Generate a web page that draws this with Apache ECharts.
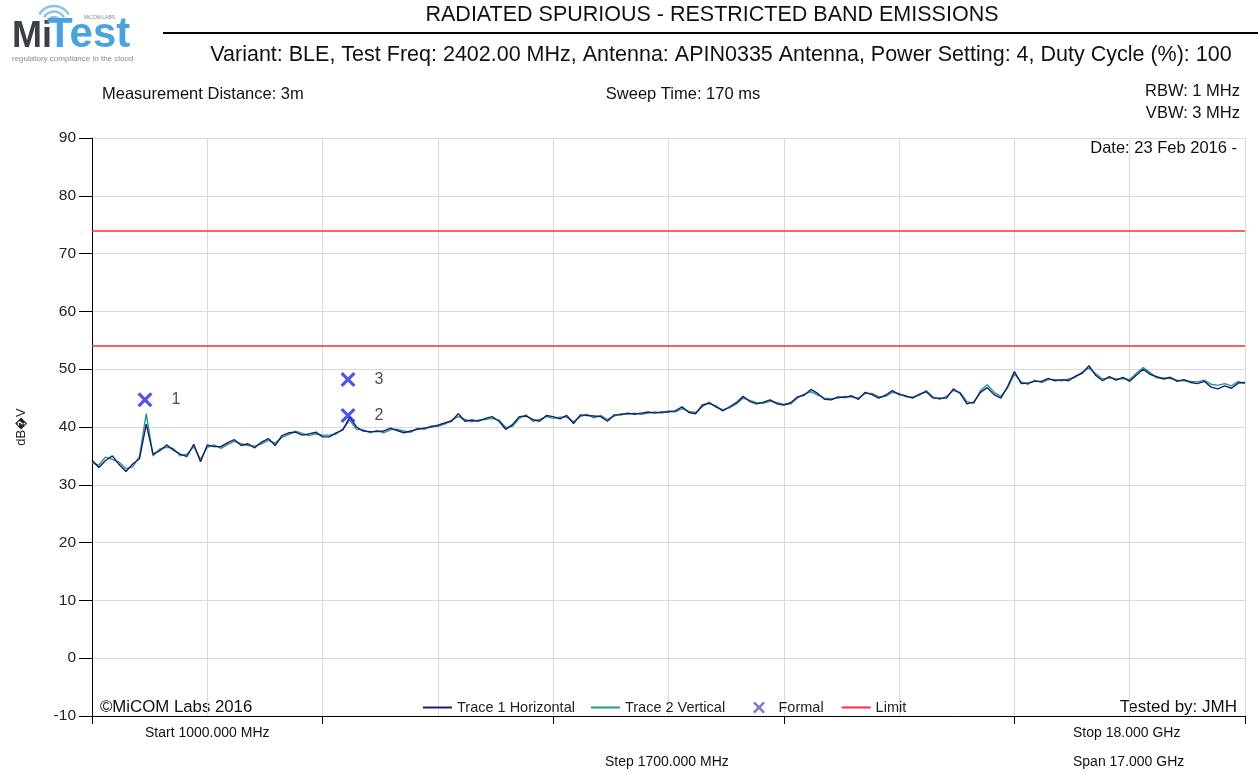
<!DOCTYPE html>
<html>
<head>
<meta charset="utf-8">
<script src="https://cdn.jsdelivr.net/npm/echarts@6/dist/echarts.min.js"></script>
<style>
  html, body { margin: 0; padding: 0; background: #fff; }
  #chart { width: 1258px; height: 774px; }
</style>
</head>
<body>
<div id="chart"></div>
<script>
// sweep: 1000 MHz .. 18000 MHz, one reading every 100 MHz
const startMHz = 1000
const stopMHz = 18000
const pointStepMHz = 100

const trace1 = [
  34.3, 33.0, 34.2, 35.0, 33.5, 32.3, 33.6, 34.5, 40.5, 35.3,
  35.9, 36.9, 36.0, 35.3, 34.9, 37.0, 34.0, 36.9, 36.6, 36.6,
  37.3, 37.8, 36.8, 37.1, 36.4, 37.4, 38.0, 36.8, 38.5, 39.0,
  39.1, 38.6, 38.8, 39.1, 38.3, 38.3, 39.0, 39.5, 41.7, 40.0,
  39.3, 39.2, 39.2, 39.3, 39.8, 39.4, 39.0, 39.3, 39.6, 39.8,
  40.0, 40.3, 40.7, 41.0, 42.3, 41.0, 41.2, 41.0, 41.5, 41.8,
  41.0, 39.6, 40.4, 41.8, 41.9, 41.3, 41.0, 42.0, 41.8, 41.4,
  42.0, 40.6, 42.1, 42.0, 41.9, 41.8, 41.0, 42.1, 42.1, 42.4,
  42.2, 42.4, 42.6, 42.4, 42.6, 42.6, 42.8, 43.5, 42.5, 42.3,
  43.8, 44.1, 43.6, 42.8, 43.5, 44.2, 45.3, 44.4, 44.0, 44.3,
  44.7, 44.0, 43.8, 44.2, 45.2, 45.5, 46.5, 45.8, 44.8, 44.7,
  45.2, 45.1, 45.4, 44.8, 46.0, 45.6, 45.0, 45.5, 46.3, 45.6,
  45.4, 45.0, 45.7, 46.1, 45.0, 45.0, 45.0, 46.6, 45.8, 44.0,
  44.3, 46.0, 46.8, 45.6, 45.0, 47.0, 49.6, 47.5, 47.6, 47.9,
  47.9, 48.4, 48.0, 48.2, 48.0, 48.8, 49.3, 50.6, 48.9, 48.0,
  48.7, 48.1, 48.6, 47.9, 49.0, 50.0, 49.1, 48.7, 48.3, 48.6,
  47.9, 48.2, 47.7, 47.5, 47.9, 46.9, 46.6, 47.1, 46.7, 47.6,
  47.7
]

const trace2 = [
  33.8, 33.4, 34.8, 34.4, 33.9, 32.8, 33.1, 34.9, 42.3, 35.0,
  36.2, 36.5, 36.3, 35.0, 35.3, 36.6, 34.4, 36.5, 36.9, 36.3,
  37.0, 37.5, 37.1, 36.8, 36.7, 37.1, 37.7, 37.2, 38.2, 38.7,
  39.3, 38.9, 38.5, 38.8, 38.6, 38.6, 38.8, 39.7, 41.2, 39.6,
  39.5, 39.0, 39.4, 39.0, 39.5, 39.6, 39.3, 39.1, 39.8, 39.6,
  40.2, 40.1, 40.5, 41.2, 41.8, 41.3, 40.9, 41.2, 41.3, 41.5,
  41.2, 39.9, 40.1, 41.5, 42.1, 41.0, 41.3, 41.8, 41.5, 41.7,
  41.7, 40.9, 41.8, 42.2, 41.6, 42.0, 41.3, 41.9, 42.3, 42.2,
  42.4, 42.2, 42.4, 42.6, 42.4, 42.8, 42.6, 43.2, 42.7, 42.5,
  43.5, 44.3, 43.4, 43.0, 43.3, 44.0, 45.0, 44.6, 44.2, 44.1,
  44.5, 44.2, 43.9, 44.0, 45.0, 45.7, 46.1, 45.5, 45.0, 44.9,
  45.0, 45.3, 45.2, 45.0, 45.8, 45.8, 45.2, 45.3, 46.0, 45.8,
  45.2, 45.2, 45.5, 46.3, 45.2, 44.8, 45.3, 46.3, 46.0, 44.4,
  44.1, 46.3, 47.3, 46.0, 45.3, 46.8, 49.2, 47.8, 47.4, 48.1,
  47.7, 48.2, 48.2, 48.0, 48.3, 48.6, 49.5, 50.2, 49.2, 48.3,
  48.5, 48.3, 48.4, 48.2, 49.3, 50.3, 49.4, 48.5, 48.5, 48.4,
  48.1, 48.0, 47.9, 47.8, 48.1, 47.4, 47.2, 47.5, 47.1, 47.9,
  47.5
]

// formal markers
const markerIds = ['1', '2', '3']
const markerFreqs = [1781, 4775, 4775]
const markerLevels = [44.7, 42.0, 48.2]

const limitLines = [74, 54]

const freqs = trace1.map((_, i) => startMHz + i * pointStepMHz)

const chart = echarts.init(document.getElementById('chart'))

const font = "'Liberation Sans', Arial, sans-serif"
const linePath = 'path://M0,0L29,0L29,2L0,2Z'
const xPath = 'path://M0,1.5L1.5,0L5,3.5L8.5,0L10,1.5L6.5,5L10,8.5L8.5,10L5,6.5L1.5,10L0,8.5L3.5,5Z'

const txt = (x, y, text, size, align, extra) => ({
  type: 'text',
  x: x,
  y: y,
  style: Object.assign({
    text: text,
    fill: '#111',
    font: size + 'px ' + font,
    textAlign: align || 'left',
    textVerticalAlign: 'middle'
  }, extra || {})
})

const arc = (r) => ({
  type: 'arc',
  shape: { cx: 54, cy: 23, r: r, startAngle: -Math.PI * 5 / 6, endAngle: -Math.PI / 6, clockwise: true },
  style: { stroke: '#8cc2e8', lineWidth: 2.5, fill: null }
})

const legendBase = {
  top: 695,
  itemWidth: 29,
  itemHeight: 12,
  selectedMode: false,
  textStyle: { fontSize: 14.5, color: '#222', fontFamily: font }
}

const option = {
  backgroundColor: '#fff',
  animation: false,
  textStyle: { fontFamily: font },
  grid: { left: 92, right: 13, top: 138, bottom: 58 },
  legend: [
    Object.assign({}, legendBase, {
      left: 418,
      itemGap: 16,
      data: [
        { name: 'Trace 1 Horizontal', icon: linePath },
        { name: 'Trace 2 Vertical', icon: linePath }
      ]
    }),
    Object.assign({}, legendBase, {
      left: 748,
      itemGap: 18,
      data: [
        { name: 'Formal', icon: xPath, itemStyle: { color: '#5a5ac8' } },
        { name: 'Limit', icon: linePath }
      ]
    })
  ],
  xAxis: [
    {
      type: 'value',
      min: startMHz,
      max: stopMHz,
      interval: 1700,
      axisLine: { show: false },
      axisTick: { show: false },
      axisLabel: { show: false },
      splitLine: { lineStyle: { color: '#dadada', width: 1 } }
    },
    {
      type: 'value',
      position: 'bottom',
      min: startMHz,
      max: stopMHz,
      interval: 3400,
      axisLine: { show: true, lineStyle: { color: '#000', width: 1 } },
      axisTick: { show: true, length: 8, lineStyle: { color: '#000' } },
      axisLabel: { show: false },
      splitLine: { show: false }
    }
  ],
  yAxis: {
    type: 'value',
    min: -10,
    max: 90,
    interval: 10,
    name: 'dB\uFFFDV',
    nameLocation: 'middle',
    nameGap: 64,
    nameRotate: 90,
    nameTextStyle: { fontSize: 13, color: '#222', fontFamily: font },
    axisLine: { show: true, lineStyle: { color: '#000', width: 1 } },
    axisTick: { show: true, length: 13, lineStyle: { color: '#000' } },
    axisLabel: { fontSize: 15.5, color: '#222', margin: 16, fontFamily: font },
    splitLine: { lineStyle: { color: '#dadada', width: 1 } }
  },
  series: [
    {
      name: 'Trace 1 Horizontal',
      type: 'line',
      color: '#1d1d6c',
      showSymbol: false,
      symbol: 'none',
      lineStyle: { width: 1.4 },
      data: freqs.map((f, i) => [f, trace1[i]]),
      z: 3
    },
    {
      name: 'Trace 2 Vertical',
      type: 'line',
      color: '#23998a',
      showSymbol: false,
      symbol: 'none',
      lineStyle: { width: 1.4 },
      data: freqs.map((f, i) => [f, trace2[i]]),
      z: 2
    },
    {
      name: 'Formal',
      type: 'scatter',
      color: '#2727e6',
      symbol: xPath,
      symbolSize: 15,
      z: 5,
      label: {
        show: true,
        position: 'right',
        distance: 19,
        fontSize: 16,
        color: '#222',
        fontFamily: font,
        formatter: (p) => markerIds[p.dataIndex]
      },
      data: markerFreqs.map((f, i) => [f, markerLevels[i]])
    },
    {
      name: 'Limit',
      type: 'line',
      color: '#ff2a3c',
      data: [],
      markLine: {
        silent: true,
        symbol: 'none',
        label: { show: false },
        lineStyle: { color: '#ff2a3c', width: 1.5, type: 'solid' },
        data: limitLines.map(v => ({ yAxis: v }))
      }
    }
  ],
  graphic: [
    // logo
    arc(6), arc(11.5), arc(17),
    txt(12, 37, 'Mi', 36, 'left', { fill: '#3c4148', font: "bold 36px 'Liberation Sans', sans-serif" }),
    txt(47, 35, 'Test', 42, 'left', { fill: '#4aa3dc', font: "bold 42px 'Liberation Sans', sans-serif" }),
    txt(84, 18, 'MiCOM LABS', 5, 'left', { fill: '#888' }),
    txt(12, 59, 'regulatory compliance in the cloud', 8, 'left', { fill: '#8a8a8a' }),
    {
      type: 'line',
      shape: { x1: 163, y1: 33, x2: 1258, y2: 33 },
      style: { stroke: '#000', lineWidth: 2 }
    },
    // headers
    txt(712, 15, 'RADIATED SPURIOUS - RESTRICTED BAND EMISSIONS', 21.5, 'center'),
    txt(721, 55, 'Variant: BLE, Test Freq: 2402.00 MHz, Antenna: APIN0335 Antenna, Power Setting: 4, Duty Cycle (%): 100', 21.5, 'center'),
    txt(102, 94, 'Measurement Distance: 3m', 16.5),
    txt(683, 94, 'Sweep Time: 170 ms', 16.5, 'center'),
    txt(1240, 91, 'RBW: 1 MHz', 16.5, 'right'),
    txt(1240, 113, 'VBW: 3 MHz', 16.5, 'right'),
    txt(1237, 148, 'Date: 23 Feb 2016 -', 16.5, 'right'),
    // footer inside plot
    txt(100, 707, '\u00A9MiCOM Labs 2016', 16.8),
    txt(1237, 707, 'Tested by: JMH', 17, 'right'),
    // sweep info
    txt(145, 733, 'Start 1000.000 MHz', 14),
    txt(1073, 733, 'Stop 18.000 GHz', 14),
    txt(605, 762, 'Step 1700.000 MHz', 14),
    txt(1073, 762, 'Span 17.000 GHz', 14)
  ]
}

chart.setOption(option)
</script>
</body>
</html>
